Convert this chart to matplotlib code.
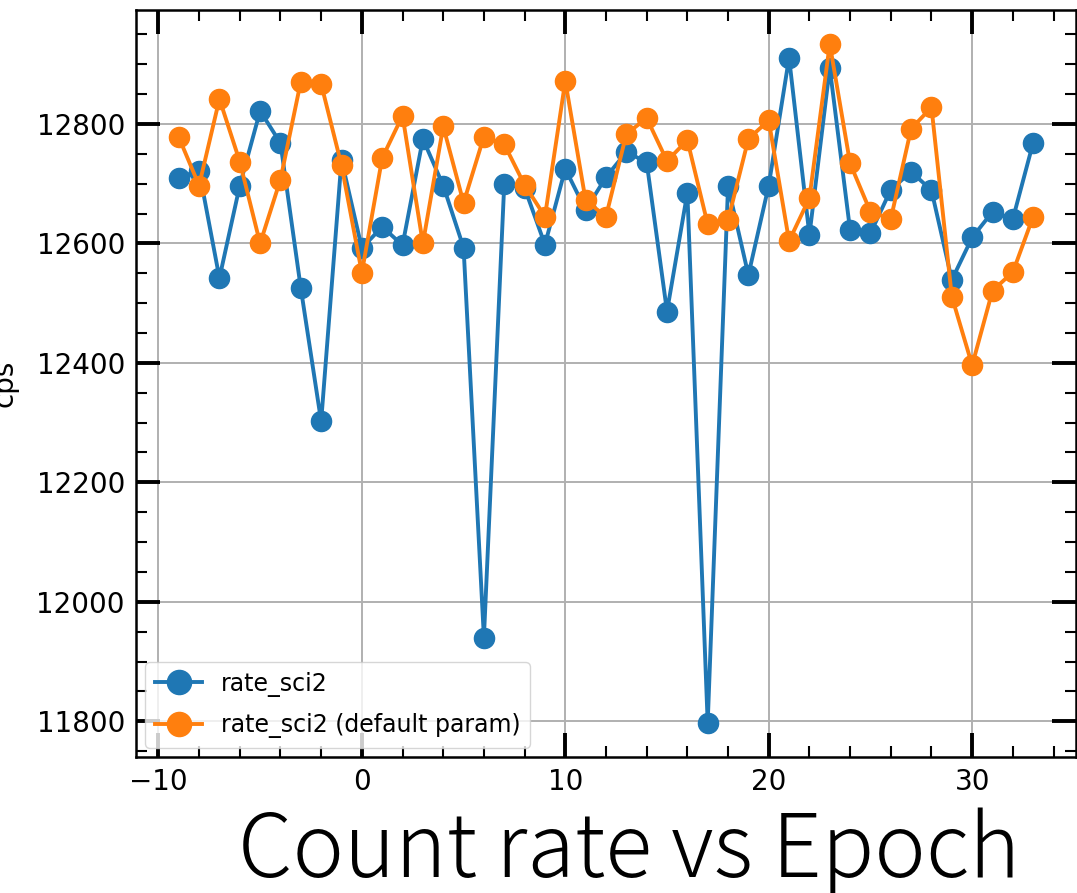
import numpy as np
import matplotlib
matplotlib.use("Agg")
import matplotlib.pyplot as plt
from matplotlib.ticker import MultipleLocator

# epoch index and count rates
epoch = np.arange(-9, 34)
rate_sci2 = [12710, 12722, 12542, 12697, 12822, 12768, 12525, 12302, 12740, 12592,
             12628, 12597, 12775, 12697, 12593, 11940, 12700, 12693, 12598, 12725,
             12656, 12711, 12753, 12736, 12486, 12685, 11797, 12696, 12547, 12697,
             12911, 12614, 12894, 12622, 12617, 12690, 12720, 12689, 12539, 12610,
             12653, 12641, 12769]
rate_sci2_default = [12778, 12697, 12842, 12737, 12600, 12707, 12871, 12867, 12731, 12551,
                     12743, 12814, 12600, 12796, 12668, 12779, 12766, 12698, 12645, 12872,
                     12672, 12645, 12783, 12810, 12738, 12773, 12632, 12639, 12775, 12806,
                     12604, 12676, 12934, 12734, 12653, 12641, 12792, 12828, 12511, 12396,
                     12521, 12552, 12645]

fig = plt.figure(figsize=(10.77, 8.93), dpi=100)
ax = fig.add_axes([0.1263, 0.1523, 0.8727, 0.8365])

ax.plot(epoch, rate_sci2, "o-", color="#1f77b4", lw=2.8, ms=14.5, label="rate_sci2")
ax.plot(epoch, rate_sci2_default, "o-", color="#ff7f0e", lw=2.8, ms=14.5,
        label="rate_sci2 (default param)")

ax.set_ylabel("cps", fontsize=20, labelpad=13)
ax.grid(True, color="#b0b0b0", lw=1.4)

ax.xaxis.set_major_locator(MultipleLocator(10))
ax.xaxis.set_minor_locator(MultipleLocator(2))
ax.yaxis.set_major_locator(MultipleLocator(200))
ax.yaxis.set_minor_locator(MultipleLocator(50))
ax.tick_params(which="both", direction="in", top=True, right=True)
ax.tick_params(which="major", length=17, width=2.8)
ax.tick_params(which="minor", length=8, width=1.5)
ax.tick_params(axis="y", labelsize=20, pad=8)
ax.tick_params(axis="x", labelsize=20, pad=8)
for s in ax.spines.values():
    s.set_linewidth(1.8)

ax.legend(loc="lower left", fontsize=17, handlelength=2.0, borderaxespad=0.4,
          labelspacing=0.7, markerscale=1.2, framealpha=0.8)

fig.text(0.584, 0.0168, "Count rate vs Epoch", ha="center", va="baseline",
         fontsize=62.5, fontweight="light",
         family=["Noto Sans CJK JP", "DejaVu Sans"])

fig.savefig("out.png", dpi=100)
